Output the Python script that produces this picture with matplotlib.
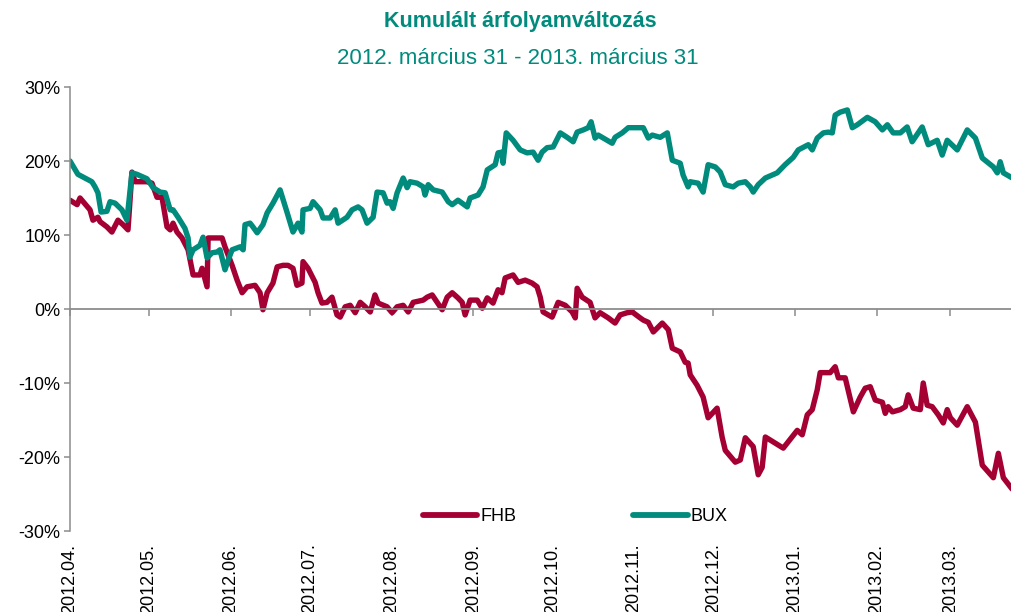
import datetime
import numpy as np
import matplotlib
matplotlib.use("Agg")
import matplotlib.pyplot as plt
import matplotlib.dates as mdates
from matplotlib.ticker import FuncFormatter, MultipleLocator

# Data: days since 2012-04-01 and cumulative change (%)
bux_days = [0, 3.0, 8.3, 9.5, 10.6, 11.8, 14.0, 15.2, 17.1, 19.7, 21.6, 23.5, 25.4, 29.2,
            31.5, 34.2, 36.1, 38.0, 39.1, 41.0, 43.6, 44.8, 45.5, 46.7, 49.3, 50.5, 52.0,
            53.9, 55.8, 56.9, 58.8, 60.0, 61.5, 64.5, 65.7, 66.4, 68.3, 69.4, 71.0, 73.2,
            74.8, 77.0, 79.7, 82.4, 84.6, 86.5, 88.0, 88.4, 91.1, 92.2, 94.9, 96.0, 98.7,
            100.6, 101.7, 105.1, 107.0, 109.3, 110.8, 112.7, 115.0, 116.5, 118.8, 120.3,
            121.4, 122.6, 124.1, 126.4, 127.9, 129.0, 131.7, 134.0, 134.7, 135.9, 137.8,
            141.2, 143.5, 145.0, 147.2, 150.7, 151.8, 154.8, 156.7, 158.3, 161.3, 162.4,
            163.9, 164.3, 165.5, 168.1, 170.8, 173.4, 175.7, 177.6, 179.1, 181.0, 183.3,
            186.0, 188.6, 190.9, 192.4, 194.7, 196.6, 197.7, 199.2, 200.4, 203.8, 205.7,
            206.8, 209.5, 211.8, 217.5, 219.4, 220.9, 223.9, 226.6, 228.5, 231.5, 232.6,
            234.5, 235.3, 238.3, 240.2, 242.1, 244.8, 246.7, 248.6, 251.6, 253.5, 256.2,
            258.1, 259.2, 261.1, 263.8, 268.3, 271.3, 274.4, 276.3, 280.1, 281.6, 283.5,
            285.8, 287.7, 289.2, 290.3, 292.2, 294.9, 296.8, 298.7, 302.5, 305.5, 308.2,
            310.1, 312.3, 315.0, 317.6, 319.5, 323.3, 325.6, 329.0, 330.9, 332.8, 336.6,
            340.4, 343.5, 346.1, 350.3, 351.8, 352.9, 354.1, 358.0]
bux = [20.0, 18.2, 17.2, 16.5, 15.7, 13.1, 13.2, 14.5, 14.3, 13.4, 12.0, 18.4, 18.2, 17.6,
       16.4, 15.8, 15.7, 13.4, 13.4, 12.4, 10.9, 9.6, 7.0, 8.0, 8.6, 9.7, 6.9,
       7.6, 7.7, 8.0, 5.3, 6.6, 8.0, 8.4, 8.0, 11.4, 11.6, 11.1, 10.3, 11.4,
       13.0, 14.3, 16.1, 13.0, 10.4, 11.6, 10.4, 13.4, 13.6, 14.5, 13.4, 12.3, 12.3,
       13.4, 11.6, 12.4, 13.4, 13.8, 13.4, 11.6, 12.4, 15.8, 15.7, 14.3,
       14.5, 13.6, 15.7, 17.7, 16.4, 17.2, 17.0, 16.5, 15.4, 16.8, 16.1,
       15.8, 14.5, 14.1, 14.7, 13.8, 15.0, 15.4, 16.5, 18.8, 19.5, 21.1,
       21.2, 19.7, 23.8, 22.8, 21.5, 21.1, 21.2, 20.1, 21.2, 21.8, 21.9,
       23.8, 23.2, 22.6, 23.9, 24.2, 24.5, 25.3, 23.1, 23.5, 22.8, 22.4,
       23.2, 23.8, 24.5, 24.5, 23.1, 23.5, 23.2, 23.8, 20.1, 19.7, 18.1,
       16.5, 17.2, 17.0, 15.8, 19.5, 19.2, 18.5, 16.8, 16.5, 17.0, 17.2,
       16.5, 15.8, 16.8, 17.7, 18.4, 19.5, 20.5, 21.5, 22.2, 21.5, 23.1,
       23.8, 23.9, 23.8, 26.2, 26.6, 26.9, 24.5, 24.9, 25.9, 25.3, 24.2,
       24.9, 23.8, 23.8, 24.6, 22.6, 24.6, 22.2, 22.8, 20.8, 22.8, 21.5,
       24.2, 23.1, 20.4, 19.2, 18.4, 19.9, 18.4, 17.6]

fhb_days = [0, 2.7, 3.8, 7.6, 8.7, 10.6, 11.4, 14.0, 15.9, 18.2, 20.1, 22.0, 23.5, 24.7,
            29.2, 31.1, 33.0, 34.9, 36.8, 38.0, 39.1, 40.6, 42.5, 44.8, 46.7, 49.3, 50.1,
            52.0, 52.4, 54.3, 57.7, 58.8, 61.5, 63.4, 65.3, 67.2, 70.2, 72.1, 73.2, 74.8,
            77.0, 78.6, 80.8, 82.7, 84.6, 86.1, 88.0, 88.4, 90.3, 93.0, 94.1, 95.6, 97.5,
            99.4, 101.3, 102.5, 104.4, 106.3, 108.2, 110.1, 112.0, 113.9, 115.7, 116.9,
            120.3, 122.2, 124.1, 126.4, 128.3, 130.2, 134.0, 135.5, 137.4, 139.3, 141.2,
            143.1, 145.0, 147.2, 148.8, 149.9, 151.8, 154.5, 156.4, 158.3, 160.5, 162.4,
            163.9, 165.1, 168.1, 170.0, 172.7, 175.3, 177.2, 178.4, 179.5, 182.9, 185.2,
            187.9, 190.5, 191.7, 192.4, 194.3, 197.3, 199.2, 201.1, 204.2, 206.8, 208.7,
            211.4, 213.3, 216.3, 217.5, 219.4, 221.3, 224.7, 227.0, 228.5, 231.5, 233.4,
            234.5, 235.3, 237.9, 240.2, 242.1, 245.5, 247.4, 248.6, 252.4, 254.3, 256.2,
            259.2, 261.1, 262.6, 263.8, 270.6, 275.9, 277.8, 279.7, 281.6, 283.5, 284.6,
            288.4, 290.3, 291.5, 294.1, 297.2, 299.8, 301.7, 303.6, 305.5, 308.2, 309.3,
            310.4, 312.0, 315.0, 316.9, 318.0, 319.9, 322.6, 323.7, 325.2, 327.1, 329.4,
            331.3, 332.8, 334.0, 336.6, 340.4, 343.5, 346.1, 350.3, 352.2, 354.1, 358.0]
fhb = [14.7, 14.1, 15.0, 13.4, 12.0, 12.4, 11.8, 11.1, 10.4, 12.0, 11.4, 10.7, 18.5, 17.2,
       17.2, 17.0, 15.1, 15.1, 11.1, 10.7, 11.6, 10.4, 9.6, 8.0, 4.6, 4.6, 5.5,
       3.0, 9.6, 9.6, 9.6, 8.4, 5.9, 3.9, 2.2, 3.0, 3.2, 2.2, -0.1, 2.2,
       3.5, 5.7, 5.9, 5.9, 5.5, 3.2, 3.5, 6.4, 5.5, 3.6, 2.2, 0.8, 0.9,
       1.6, -0.8, -1.1, 0.3, 0.5, -0.5, 0.9, 0.3, -0.4, 1.9, 0.8,
       0.3, -0.5, 0.3, 0.5, -0.4, 0.9, 1.2, 1.6, 1.9, 0.9, -0.1,
       1.6, 2.2, 1.5, 0.9, -0.8, 1.2, 1.2, 0.1, 1.5, 0.8, 2.6,
       2.2, 4.2, 4.6, 3.6, 3.9, 3.5, 3.0, 1.6, -0.4, -1.1, 0.9,
       0.5, -0.4, -1.2, 2.8, 1.6, 0.9, -1.2, -0.5, -1.2, -1.9, -0.8,
       -0.5, -0.4, -1.2, -1.5, -1.8, -3.1, -1.9, -2.8, -5.3, -5.8, -7.2,
       -7.3, -8.9, -10.3, -11.9, -14.7, -13.4, -17.3, -19.1, -20.7, -20.4, -17.4,
       -18.6, -22.4, -21.4, -17.3, -18.8, -16.4, -17.0, -14.3, -13.6, -10.9, -8.6,
       -8.6, -7.8, -9.3, -9.3, -13.9, -11.9, -10.7, -10.5, -12.3, -12.6, -14.1,
       -13.2, -13.9, -13.6, -13.2, -11.6, -13.4, -13.6, -10.0, -13.0, -13.2, -14.3,
       -15.4, -13.6, -14.7, -15.7, -13.2, -15.3, -21.1, -22.8, -19.5, -22.8, -24.6]

start = mdates.date2num(datetime.datetime(2012, 4, 1))
teal = "#008B7D"
crimson = "#A50034"
grey = "#8C8C8C"
font = ["Liberation Sans Narrow", "Liberation Sans", "DejaVu Sans"]
plt.rcParams["font.family"] = font

fig = plt.figure(figsize=(10.11, 6.12), dpi=100)
ax = fig.add_axes([70 / 1011, 1 - 531 / 612, 941 / 1011, 444 / 612])

ax.plot(start + np.array(fhb_days), fhb, color=crimson, lw=3.9, label="FHB",
        solid_joinstyle="round", solid_capstyle="round")
ax.plot(start + np.array(bux_days), bux, color=teal, lw=3.9, label="BUX",
        solid_joinstyle="round", solid_capstyle="round")

ax.set_xlim(start, start + 357)
ax.set_ylim(-30, 30)

# y axis
ax.yaxis.set_major_locator(MultipleLocator(10))
ax.yaxis.set_major_formatter(FuncFormatter(lambda v, p: f"{v:.0f}%"))
ax.tick_params(axis="y", direction="out", length=4, width=1.1, color=grey,
               labelsize=13, pad=3)

for s in ["top", "right"]:
    ax.spines[s].set_visible(False)
ax.spines["left"].set_color(grey)
ax.spines["left"].set_linewidth(1.1)

# zero line with month ticks
ax.spines["bottom"].set_position(("data", 0))
ax.spines["bottom"].set_color(grey)
ax.spines["bottom"].set_linewidth(1.3)
ax.xaxis.set_major_locator(mdates.MonthLocator())
ax.tick_params(axis="x", direction="out", length=5, width=1.1, color=grey,
               labelbottom=False)

# month labels at the bottom
sec = ax.secondary_xaxis("bottom")
sec.xaxis.set_major_locator(mdates.MonthLocator())
sec.xaxis.set_major_formatter(mdates.DateFormatter("%Y.%m."))
sec.spines["bottom"].set_visible(False)
sec.tick_params(axis="x", length=0, labelsize=13, pad=9, labelrotation=90)

leg = ax.legend(loc="center", bbox_to_anchor=(0.537, 0.032), ncol=2, frameon=False,
                fontsize=13, handlelength=3.0, handletextpad=0.15, columnspacing=6.5)
for line in leg.get_lines():
    line.set_linewidth(4.2)

fig.text(0.515, 0.965, "Kumulált árfolyamváltozás", ha="center", va="center",
         color=teal, fontsize=15.5, fontweight="bold")
fig.text(0.512, 0.905, "2012. március 31 - 2013. március 31", ha="center", va="center",
         color=teal, fontsize=16)

fig.savefig("out.png", dpi=100)
